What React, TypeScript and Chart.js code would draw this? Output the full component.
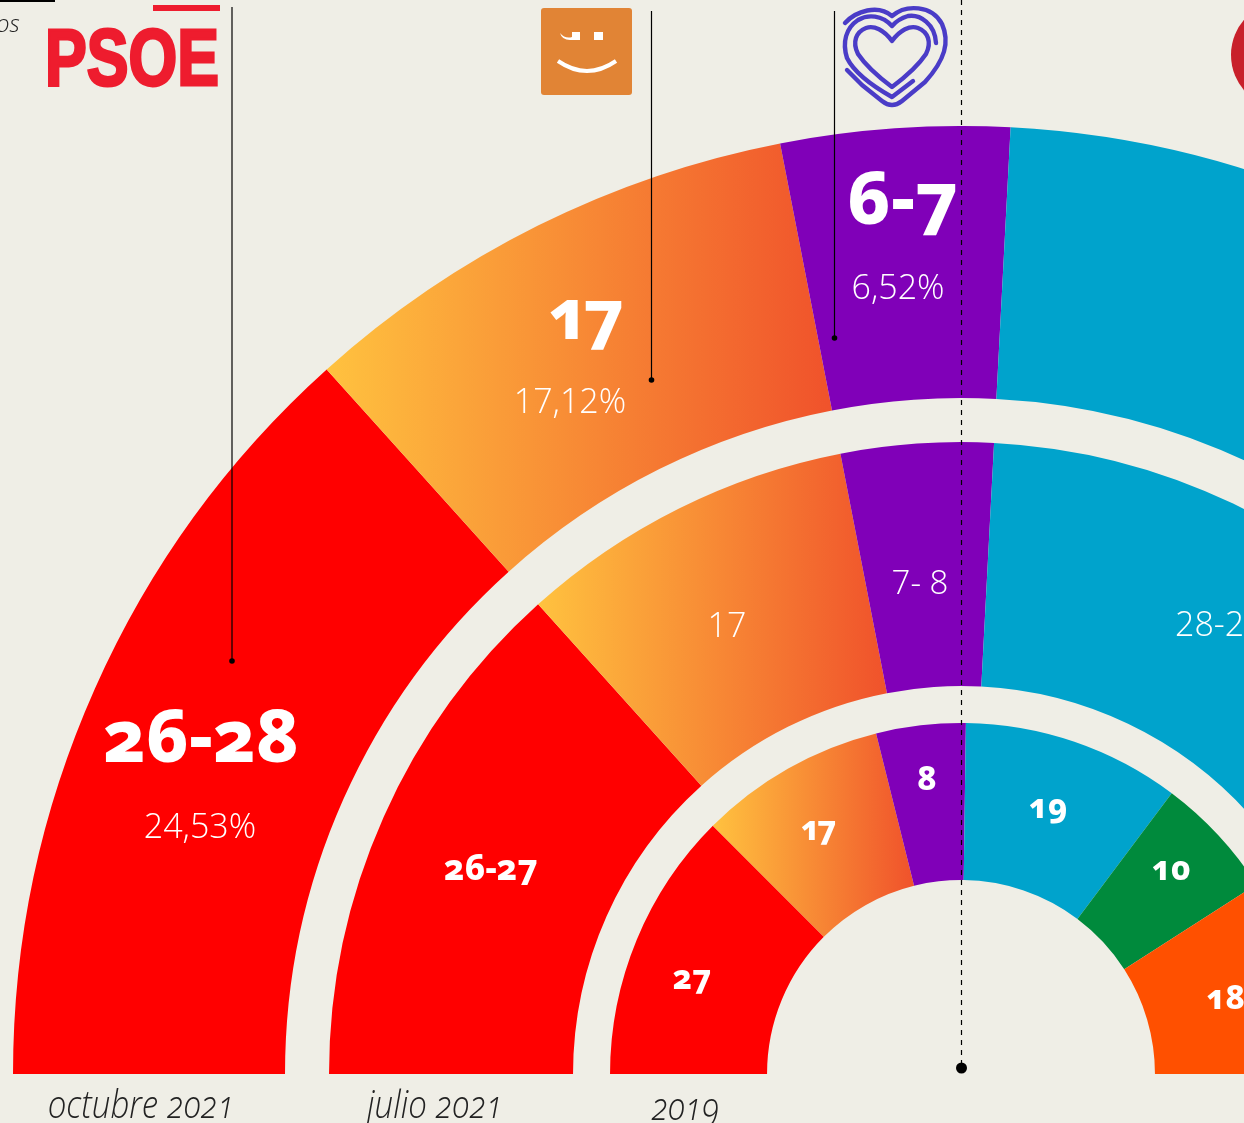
import React, { useEffect, useRef } from "react";
import { Chart, registerables } from "chart.js";

Chart.register(...registerables);

const parties = ["PSOE", "Compromís", "Unides Podem", "PP", "Vox", "Ciudadanos"];
const octubre2021 = [48, 31, 14, 45, 16, 26];
const julio2021 = [48, 31, 14, 45, 16, 26];
const elecciones2019 = [45, 31, 14.8, 36.1, 20.4, 32.7];
const partyColors = ["#ff0000", "#f58232", "#8000b8", "#00a3cc", "#008a3c", "#ff5000"];
const gradientStops = ["#ffc23f", "#f0522b"];
const ringWeights = [272, 44, 244, 37, 157];
const ringLabels = ["octubre 2021", "julio 2021", "2019"];
const BG = "#efeee6";

const gradientPlugin = {
  id: "gradientSlices",
  beforeDatasetsDraw(chart: any) {
    chart.data.datasets.forEach((ds: any, i: number) => {
      if (ds.spacer) return;
      const arc = chart.getDatasetMeta(i).data[1];
      const { x, startAngle, endAngle, outerRadius, innerRadius } = arc.getProps(
        ["x", "startAngle", "endAngle", "outerRadius", "innerRadius"],
        true
      );
      const g = chart.ctx.createLinearGradient(
        x + Math.cos(startAngle) * outerRadius, 0,
        x + Math.cos(endAngle) * innerRadius, 0
      );
      g.addColorStop(0, gradientStops[0]);
      g.addColorStop(1, gradientStops[1]);
      arc.options = { ...arc.options, backgroundColor: g };
    });
  },
};

type Lbl = { t: string; x: number; y: number; s: number; w: number; onum?: boolean; left?: boolean; ls?: number };
const labels: Lbl[] = [
  { t: "26-28", x: 201, y: 733, s: 73, w: 800, onum: true },
  { t: "24,53%", x: 200, y: 825, s: 34, w: 350 },
  { t: "26-27", x: 491, y: 866, s: 35, w: 800, onum: true },
  { t: "17", x: 583, y: 312, s: 70, w: 800, onum: true, ls: -6 },
  { t: "17,12%", x: 570, y: 400, s: 34, w: 350 },
  { t: "6-7", x: 903, y: 196, s: 74, w: 800, onum: true },
  { t: "6,52%", x: 898, y: 286, s: 34, w: 350 },
  { t: "7- 8", x: 920, y: 581, s: 33, w: 350 },
  { t: "17", x: 727, y: 624, s: 34, w: 350 },
  { t: "28-29", x: 1175, y: 623, s: 34, w: 350, left: true },
  { t: "27", x: 692, y: 976, s: 33, w: 800, onum: true },
  { t: "17", x: 817, y: 827, s: 33, w: 800, onum: true, ls: -3 },
  { t: "8", x: 927, y: 777, s: 33, w: 800, onum: true },
  { t: "19", x: 1048, y: 805, s: 33, w: 800, onum: true },
  { t: "10", x: 1171, y: 867, s: 33, w: 800, onum: true },
  { t: "18", x: 1206, y: 996, s: 33, w: 800, onum: true, left: true },
];

const ringLabelPos = [
  { x: 141, y: 1103 },
  { x: 435, y: 1103 },
  { x: 685, y: 1105 },
];

export default function App() {
  const ref = useRef<HTMLCanvasElement>(null);
  useEffect(() => {
    const spacer = { data: [1], backgroundColor: ["rgba(0,0,0,0)"], borderWidth: 0, spacer: true };
    const ring = (label: string, data: number[], weight: number) => ({
      label, data, weight, backgroundColor: partyColors, borderWidth: 0,
    });
    const chart = new Chart(ref.current!, {
      type: "doughnut",
      data: {
        labels: parties,
        datasets: [
          ring(ringLabels[0], octubre2021, ringWeights[0]),
          { ...spacer, weight: ringWeights[1] },
          ring(ringLabels[1], julio2021, ringWeights[2]),
          { ...spacer, weight: ringWeights[3] },
          ring(ringLabels[2], elecciones2019, ringWeights[4]),
        ] as any,
      },
      options: {
        responsive: false,
        animation: false,
        rotation: -90,
        circumference: 180,
        cutout: "20.46%",
        layout: { padding: 0 },
        plugins: { legend: { display: false }, tooltip: { enabled: false } },
      },
      plugins: [gradientPlugin],
    });
    return () => chart.destroy();
  }, []);

  return (
    <div style={{ position: "absolute", left: 0, top: 0, width: 1244, height: 1123, overflow: "hidden", background: BG }}>
      <canvas ref={ref} width={1896} height={948} style={{ position: "absolute", left: 13, top: 126, width: 1896, height: 948 }} />
      <svg width={1244} height={1123} style={{ position: "absolute", left: 0, top: 0 }}>
        <rect x={0} y={0} width={55} height={2} fill="#000" />
        <text x={-4} y={32} fontFamily="'Open Sans'" fontStyle="italic" fontWeight={300} fontSize={24} fill="#222">os</text>
        <rect x={153} y={5} width={67} height={6} fill="#ee1c2e" />
        <text x={45} y={85} fontFamily="'Liberation Sans'" fontWeight={700} fontSize={80} fill="#ee1c2e" stroke="#ee1c2e" strokeWidth={3} textLength={174} lengthAdjust="spacingAndGlyphs">PSOE</text>
        <rect x={541} y={8} width={91} height={87} rx={3} fill="#e18435" />
        <rect x={594} y={32} width={9} height={8} fill="#fff" />
        <path d="M560 33 Q565 39 572 37 L572 32 L580 32 L580 40 L570 40 Q562 40 560 33Z" fill="#fff" />
        <path d="M558 61 Q587 81 616 61" fill="none" stroke="#fff" strokeWidth={4} />
        <g fill="none" stroke="#4a3cc7" strokeWidth={4.4} strokeLinecap="round" strokeLinejoin="round">
          <path d="M845 23 C856 11 878 4 892 16 C906 4 932 5 942 24 C950 42 945 60 925 82 L902 101 Q892 109 882 101 L862 85 L847 70" />
          <path d="M936 43 C935 24 920 14 908 16 Q898 19 892 26 C882 15 868 14 858 20 C846 28 842 42 847 58 C855 74 876 88 892 97 L913 81" />
          <path d="M892 41 C884 30 874 25 866 28 C856 32 852 42 858 54 C866 66 880 78 892 87 C904 78 918 66 926 54 C932 42 928 32 918 28 C910 25 900 30 892 41Z" />
        </g>
        <circle cx={1285} cy={55} r={54} fill="#c8202a" />
        <g stroke="#000" strokeWidth={1.2}>
          <line x1={232} y1={7} x2={232} y2={661} />
          <line x1={651.5} y1={11} x2={651.5} y2={380} />
          <line x1={834.5} y1={11} x2={834.5} y2={338} />
          <line x1={961.5} y1={0} x2={961.5} y2={1068} strokeDasharray="5 5" />
        </g>
        <circle cx={232} cy={661} r={2.8} fill="#000" />
        <circle cx={651.5} cy={380} r={2.8} fill="#000" />
        <circle cx={834.5} cy={338} r={2.8} fill="#000" />
        <circle cx={961.5} cy={1068} r={5.5} fill="#000" />
      </svg>
      {labels.map((l, i) => (
        <span key={i} style={{
          position: "absolute", left: l.x, top: l.y, lineHeight: 1, whiteSpace: "nowrap",
          transform: l.left ? "translate(0,-50%)" : "translate(-50%,-50%)",
          fontFamily: l.onum ? "'Noto Sans'" : "'Open Sans'", fontSize: l.s, fontWeight: l.w, color: "#fff",
          fontFeatureSettings: l.onum ? '"onum"' : undefined,
          letterSpacing: l.ls,
        }}>{l.t}</span>
      ))}
      {ringLabels.map((t, i) => (
        <span key={t} style={{
          position: "absolute", left: ringLabelPos[i].x, top: ringLabelPos[i].y, lineHeight: 1, whiteSpace: "nowrap",
          transform: "translate(-50%,-50%) scaleX(0.87)",
          fontFamily: "'Open Sans'", fontSize: 38, fontWeight: 300, fontStyle: "italic", color: "#222",
          fontFeatureSettings: '"onum"',
        }}>{t}</span>
      ))}
    </div>
  );
}
